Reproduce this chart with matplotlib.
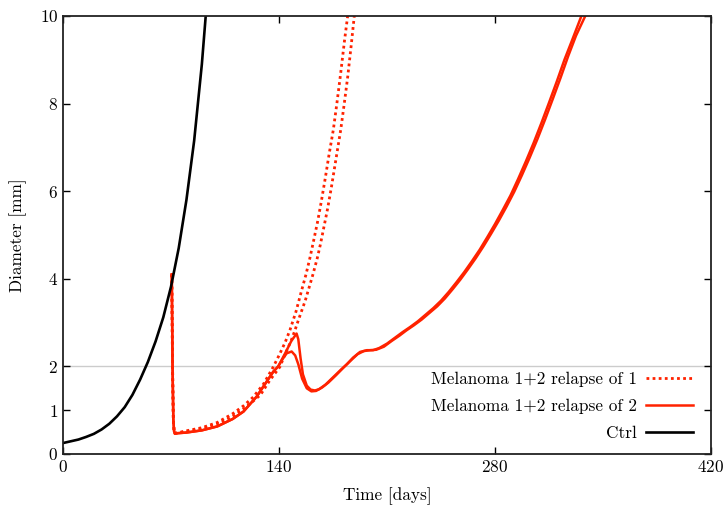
import matplotlib
matplotlib.use("Agg")
import matplotlib.pyplot as plt

# Data (time in days, diameter in mm)
ctrl_t = [0, 5, 10, 15, 20, 25, 30, 35, 40, 45, 50, 55, 60, 65, 70, 75, 80, 85, 90, 92.5]
ctrl_d = [0.25, 0.29, 0.33, 0.39, 0.46, 0.56, 0.69, 0.86, 1.07, 1.35, 1.70, 2.10, 2.57, 3.12, 3.82, 4.70, 5.80, 7.15, 8.90, 10.0]

# relapse of 1 (dotted), two runs
rel1a_t = [70.5, 71.0, 71.5, 72.0, 72.5, 80, 90, 100, 110, 117, 123.3, 130, 136.3, 140, 144, 147.1, 151, 154.7, 157.5, 160,
           162.5, 165, 167.5, 170, 172.5, 175.2, 177.5, 180, 182.5, 184.5]
rel1a_d = [4.1, 2.0, 0.8, 0.52, 0.47, 0.53, 0.60, 0.72, 0.92, 1.10, 1.30, 1.60, 1.99, 2.25, 2.55, 2.83, 3.25, 3.74, 4.10, 4.47,
           4.88, 5.30, 5.78, 6.30, 6.85, 7.40, 8.00, 8.70, 9.45, 10.0]
rel1b_t = [70.5, 71.0, 71.5, 72.0, 72.5, 80, 90, 100, 110, 117, 123, 128, 134, 140.6, 143, 145.5, 148, 150.4, 152.5, 155, 157,
           159, 162, 164.8, 166.8, 168.7, 171.5, 174, 177, 180, 182.3, 184.5, 186.7, 188.8]
rel1b_d = [4.1, 2.0, 0.8, 0.52, 0.47, 0.51, 0.57, 0.68, 0.86, 1.03, 1.20, 1.35, 1.68, 1.99, 2.20, 2.40, 2.60, 2.83, 3.05, 3.30, 3.50,
           3.74, 4.10, 4.47, 4.78, 5.11, 5.60, 6.10, 6.75, 7.40, 8.00, 8.60, 9.30, 10.0]

# relapse of 2 (solid), two runs
rel2a_t = [70.5, 71.0, 71.5, 72.0, 72.5, 80, 90, 100, 110, 117, 125.5, 131, 136.3, 139.5, 144, 148, 151.4, 152.5, 154, 155.5, 158, 160.5,
           163.3, 166, 170, 175, 180, 184, 188, 192.5, 197, 201, 205, 210, 215, 220, 225, 230, 235, 240, 245, 250, 255, 260, 265, 270,
           275, 280, 285, 290, 295, 300, 305, 310, 315, 320, 325, 330, 336]
rel2a_d = [4.1, 2.0, 0.8, 0.52, 0.47, 0.49, 0.54, 0.63, 0.80, 0.97, 1.31, 1.60, 1.88, 2.0, 2.30, 2.58, 2.75, 2.62, 2.18, 1.82, 1.56, 1.47,
           1.45, 1.48, 1.58, 1.75, 1.92, 2.05, 2.20, 2.33, 2.37, 2.37, 2.42, 2.52, 2.65, 2.78, 2.90, 3.03, 3.18, 3.33, 3.50, 3.70, 3.92, 4.15, 4.40, 4.66,
           4.95, 5.25, 5.57, 5.90, 6.28, 6.68, 7.10, 7.55, 8.02, 8.50, 9.00, 9.45, 10.0]
rel2b_t = [70.5, 71.0, 71.5, 72.0, 72.5, 80, 90, 100, 110, 117, 125.5, 131, 136.3, 139.5, 142, 145, 148.2, 150.5, 152.5, 155, 158, 161,
           164, 168, 172, 177, 182, 187, 191, 195, 199, 203, 208, 213, 218, 222.5, 227.5, 232.5, 237.5, 242.5, 247.5, 252.5, 257.5, 262.5,
           267.5, 272.5, 277.5, 282.5, 287.5, 292.5, 297.5, 302.5, 307.5, 312.5, 317.5, 322.5, 327.5, 332.5, 338.5]
rel2b_d = [4.1, 2.0, 0.8, 0.52, 0.47, 0.49, 0.54, 0.63, 0.80, 0.97, 1.31, 1.60, 1.88, 2.0, 2.15, 2.30, 2.34, 2.25, 2.05, 1.72, 1.50, 1.43,
           1.44, 1.52, 1.63, 1.80, 1.98, 2.15, 2.28, 2.35, 2.37, 2.38, 2.45, 2.58, 2.70, 2.82, 2.94, 3.07, 3.22, 3.37, 3.55, 3.76, 3.98, 4.22,
           4.47, 4.74, 5.03, 5.33, 5.65, 5.99, 6.37, 6.77, 7.19, 7.64, 8.11, 8.59, 9.09, 9.55, 10.0]

x_ticks = [0, 140, 280, 420]
y_ticks = [0, 1, 2, 4, 6, 8, 10]

red = "#ff2200"

plt.rcParams["font.family"] = "cmr10"
plt.rcParams["mathtext.fontset"] = "cm"
plt.rcParams["axes.formatter.use_mathtext"] = True
plt.rcParams["font.size"] = 12.4

fig = plt.figure(figsize=(7.27, 5.07), dpi=100)
ax = fig.add_axes([63 / 727, 53 / 507, 648 / 727, 438 / 507])

# reference line at 2 mm
ax.axhline(2, color="#cccccc", lw=1, zorder=0)

dots = (0, (1.0, 1.2))
ax.plot(rel1a_t, rel1a_d, color=red, lw=2, ls=dots, label="Melanoma 1+2 relapse of 1")
ax.plot(rel1b_t, rel1b_d, color=red, lw=2, ls=dots)
ax.plot(rel2a_t, rel2a_d, color=red, lw=1.8, label="Melanoma 1+2 relapse of 2")
ax.plot(rel2b_t, rel2b_d, color=red, lw=1.8)
ax.plot(ctrl_t, ctrl_d, color="black", lw=1.9, label="Ctrl")

ax.set_xlim(0, 420)
ax.set_ylim(0, 10)
ax.set_xticks(x_ticks)
ax.set_yticks(y_ticks)
ax.tick_params(direction="in", top=True, right=True, length=5, width=1)
for s in ax.spines.values():
    s.set_linewidth(1.3)
    s.set_color("#222222")

ax.set_xlabel("Time [days]", labelpad=9)
ax.set_ylabel("Diameter [mm]", labelpad=9)

ax.legend(loc="lower right", bbox_to_anchor=(1 - 5 / 648, 0), frameon=False,
          markerfirst=False, handlelength=2.75, handletextpad=0.5,
          borderaxespad=0.35, labelspacing=0.68)

fig.savefig("out.png", dpi=100)
